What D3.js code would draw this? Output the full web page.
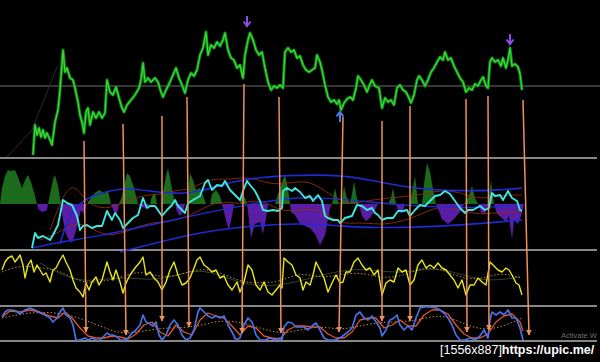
<html>
<head>
  <script src="https://d3js.org/d3.v7.min.js"></script>
  <style>
    body { margin: 0; background: #000; }
    svg { display: block; background: #000; }
  </style>
</head>
<body>
  <svg id="chart" width="600" height="362"></svg>
  <script>
    // bar index, value pairs
    const price = [[16.5,5],[17.5,35],[18.5,25],[19.5,32],[20.5,23],[21.5,30],[22.5,22],[23.5,27],[25,20],[26,15],[27.5,38],[29,50],[30,70],[31.5,110],[32.5,88],[33.5,92],[35,82],[36.5,80],[37.5,72],[39,58],[40,45],[41,38],[42,27],[43,48],[44,52],[45,35],[46.5,48],[48,42],[49.5,48],[51,42],[52.5,47],[53.5,80],[55,68],[56.5,65],[58,73],[59.5,62],[61,52],[62,48],[63.5,55],[65.5,60],[67.5,65],[69.5,72],[70.5,80],[71.5,97],[72.5,78],[74,82],[75.5,78],[77.5,82],[79,78],[80.5,68],[81.5,63],[83,70],[85,78],[86.5,85],[88,92],[89.5,82],[91,75],[92.5,67],[94,80],[95.5,87],[97,84],[98.5,90],[100,105],[101.5,112],[103,128],[104,105],[105.5,115],[107,112],[108.5,118],[110,114],[111.5,120],[112.5,127],[114,110],[115.5,102],[117,100],[118.5,92],[120,95],[121.5,82],[122.5,105],[124,120],[125,127],[126.5,120],[128,110],[129.5,105],[131,108],[132.5,92],[134,78],[135.5,70],[137,74],[138.5,72],[140,75],[141.5,72],[142.5,108],[144,112],[145.5,108],[147,110],[148.5,102],[150,104],[151.5,95],[153,90],[154.5,88],[156,90],[157.5,92],[158.5,105],[160,98],[161,90],[162.5,75],[164,63],[165.5,58],[167,60],[168.5,56],[169.5,60],[170.5,50],[172,57],[173.5,61],[175,63],[176.5,60],[178,72],[179,84],[180.5,80],[182,75],[183.5,68],[185,76],[186,80],[187.5,74],[189.5,72],[191,52],[192.5,62],[194,58],[195.5,60],[197,55],[198.5,72],[200,75],[201.5,70],[203,68],[204.5,62],[205.5,57],[207,65],[208.5,80],[209.5,84],[211,80],[212.5,74],[214,80],[215.5,88],[217,92],[218.5,98],[220,103],[221.5,100],[222.5,108],[224,100],[225.5,102],[227,94],[228.5,88],[230,82],[231.5,78],[233,68],[234.5,72],[236,70],[237.5,76],[239,74],[240.5,80],[241.5,83],[243,74],[244,72],[245,98],[246,102],[247.5,98],[249,100],[250.5,94],[251.5,102],[253,92],[254,100],[255,112],[256,94],[257.5,96],[259,93],[260,86],[261,70]];
    const priceMa = [[3.5,3],[16,30],[28.5,93]];
    const priceLevel = 74;
    const signalsDown = [[123.5,138],[255,120]];
    const signalsUp = [[170,44]];

    const hist = [[0,0],[1,16],[2.5,28],[4,34],[5.5,33],[7.5,34],[9,27],[11,16],[12.5,24],[14,29],[15.5,22],[17,12],[18.5,0],[19.5,-6],[21.5,-8],[23.5,-6],[24,0],[25,10],[26.5,24],[27.5,29],[29,18],[30.5,0],[31.5,-16],[33,-30],[34.5,-36],[36,-39],[37.5,-30],[39,-18],[40.5,-6],[42,-10],[43.5,0],[46,8],[48,12],[50,14],[52,10],[54,13],[55.5,0],[57,-8],[58.5,-10],[59.5,0],[61,8],[62.5,22],[63.5,31],[65,28],[67,16],[69,0],[70.5,-3],[73,-4],[75,0],[76,8],[77.5,11],[78.5,0],[80.5,0],[81.5,12],[83,28],[84,36],[85,26],[86.5,10],[87.5,0],[88.5,-8],[90,-12],[91.5,-8],[92.5,0],[93.5,0],[94.5,20],[95,31],[96.5,24],[98,14],[100,16],[102,6],[103,0],[105,0],[106,10],[108,14],[110,8],[111,0],[112,-8],[113.5,-20],[114.5,-26],[116,-12],[117,0],[120,0],[121,10],[122.5,6],[123.5,0],[124,-8],[125.5,-34],[127.5,-20],[130,-18],[131.5,-30],[133,-15],[134,0],[137.5,0],[139,10],[141,22],[142.5,29],[144,16],[145,0],[145.5,-8],[147.5,-11],[150,-20],[152.5,-22],[155,-24],[157.5,-30],[160,-41],[162.5,-31],[165,-4],[166,0],[167.5,16],[169,2],[170,0],[171,4],[172,18],[173.5,6],[175,0],[176,10],[177,23],[178.5,5],[179.5,0],[181,-12],[183,-17],[185,-14],[187,-8],[189,0],[194,0],[195.5,6],[196.5,16],[198,0],[199,-6],[201,-10],[202.5,0],[205,0],[206,12],[207.5,28],[209,0],[211,0],[212,20],[213.5,41],[215,32],[216.5,15],[218,0],[221,-15],[224,-20],[227,-15],[230,-8],[232,0],[234,6],[236,18],[237.5,6],[239,0],[240.5,-8],[242.5,-10],[244,0],[245.5,24],[247,0],[248.5,-10],[251,-14],[253,-18],[254.5,-12],[256,-36],[257,-16],[259,-20],[260.5,-12],[262,0]];
    const cyan = [[16,-44],[17.5,-29],[19,-34],[21.5,-32],[25,-36],[26.5,-31],[29,-21],[31.5,4],[33.5,1],[36,-1],[38.5,-12],[40,-26],[41.5,-22],[43.5,-21],[46,-24],[48.5,-22],[51,-22],[53.5,-7],[56,-16],[57.5,-9],[60,-16],[61.5,-24],[64,-19],[66.5,-14],[69,-11],[71.5,6],[73.5,-4],[75,-2],[77.5,-2],[81,-12],[83.5,-6],[86,-1],[87.5,4],[89,-2],[91,-6],[92.5,-9],[94,1],[96.5,4],[100,8],[102.5,21],[104,24],[106,14],[108.5,19],[111,18],[112.5,23],[115,14],[117.5,9],[120,4],[121.5,13],[123.5,23],[125,19],[127.5,13],[130,3],[131.5,-6],[134,-7],[136.5,-6],[139,-7],[141,-4],[141.5,13],[143.5,16],[146,13],[147.5,16],[150,12],[152.5,6],[155,8],[156.5,3],[159,9],[161,3],[162.5,-12],[164,-14],[166.5,-16],[169,-16],[170,-19],[172.5,-14],[176,-12],[178.5,-1],[181,-2],[183.5,-6],[186,-4],[187.5,-9],[189,-11],[191,-16],[193.5,-14],[196.5,-14],[199,-7],[201.5,-7],[203.5,-6],[205,-12],[207.5,-6],[210,-1],[212.5,-2],[215,3],[217.5,8],[220,9],[222.5,13],[225,10],[227.5,3],[230,-4],[232.5,-9],[234,-6],[236.5,-6],[240,-2],[242.5,-6],[244.5,-4],[246,11],[247.5,8],[250,9],[251.5,4],[254,13],[256,6],[258.5,3],[260,-6],[261,-7]];
    const bandUpper = [[30,-40],[33,-20],[37.5,-3],[45,8],[55,13],[62.5,16],[75,13],[87.5,10],[100,12],[115,22],[130,27],[150,29],[170,29],[185,24],[200,18],[215,14],[235,13],[250,14],[261,16]];
    const bandMiddle = [[16,-44],[30,-38],[50,-32],[75,-21],[100,-10],[125,0],[150,8],[175,4],[200,-1],[225,-4],[250,-3],[261,-1]];
    const bandLower = [[60,-48],[80,-38],[100,-28],[125,-22],[150,-19],[170,-22],[190,-24],[210,-23],[230,-21],[250,-18],[261,-16]];
    const envUpper = [[25,-26],[32.5,14],[37.5,19],[42.5,4],[50,-6],[60,-1],[70,9],[80,9],[87.5,14],[95,14],[105,26],[115,24],[125,28],[135,19],[145,21],[155,24],[165,9],[175,-1],[185,4],[195,6],[210,9],[220,14],[230,12],[240,4],[250,9],[261,9]];
    const envLower = [[20,-36],[30,-28],[40,-16],[50,-31],[60,-31],[70,-21],[80,-18],[90,-16],[100,-6],[110,4],[120,-1],[130,6],[140,-8],[150,-6],[160,-4],[170,-21],[180,-18],[190,-21],[200,-18],[210,-11],[220,-1],[230,-6],[240,-11],[250,-8],[261,-8]];

    const yellow = [[1,35],[2.5,43],[4,47],[6,49],[7.5,43],[9,47],[10,50],[11.5,40],[12.5,27],[14,40],[15.5,45],[17,33],[18.5,40],[20,35],[21.5,30],[23,32],[25,23],[26.5,35],[28,37],[30,45],[31.5,50],[33,43],[35,35],[36.5,25],[38,17],[40,13],[41.5,8],[43,22],[44.5,15],[46,23],[48,28],[49.5,20],[51,25],[53.5,43],[55,33],[56.5,25],[58,35],[60,23],[61.5,12],[63,22],[65,30],[67.5,37],[70,43],[71.5,48],[73,30],[75,33],[77,27],[79,23],[81,15],[83,23],[85,35],[87,43],[89,30],[91,20],[93,22],[95,27],[97,37],[98.5,45],[100,48],[102,40],[104,37],[106,33],[108,35],[110,27],[112,29],[114,20],[116,15],[118.5,23],[120,13],[122,23],[124,40],[126,35],[128,20],[130,15],[132,23],[134,13],[136,10],[138,15],[140,20],[141,17],[142,47],[144,43],[146,40],[148,30],[150,27],[151.5,15],[153,23],[155,20],[156.5,30],[158,43],[160,35],[162,27],[164,13],[166,22],[168,30],[170,22],[171.5,23],[173,33],[175,33],[177,43],[179,47],[181,40],[183,35],[185,37],[187,30],[189,35],[191,10],[193,22],[195,25],[197,23],[199,37],[201,33],[203,35],[205,20],[207,25],[209,40],[211,45],[213,37],[215,40],[217,37],[219,42],[221,37],[223,35],[225,30],[227,25],[229,17],[231,25],[233,10],[235,20],[237,20],[239,27],[241,23],[243,20],[245,43],[247,39],[249,35],[251,33],[253,37],[254.5,35],[256,30],[258,22],[259.5,20],[261,10]];
    const yellowSignal = [[1,33],[10,40],[20,37],[30,35],[40,22],[50,23],[60,27],[70,35],[80,27],[90,30],[100,37],[110,33],[120,23],[130,22],[140,23],[150,33],[160,27],[170,30],[180,33],[190,27],[200,28],[210,37],[220,37],[230,27],[240,25],[250,33],[261,27]];
    const yellowBand = [[20,42],[40,20],[60,30],[80,22],[100,40],[120,20],[140,18],[160,30],[180,38],[200,30],[220,40],[240,22],[260,28]];

    const stochMain = [[1,24],[2.5,29],[4,31],[6,31],[8,30],[10,27],[12.5,31],[15,33],[17.5,31],[20,28],[22.5,26],[25,23],[26.5,19],[28.5,23],[30,29],[31.5,33],[33,26],[35,23],[36.5,16],[38,1],[40,1],[42.5,3],[44,1],[46,3],[48,1],[50,1],[52,5],[53.5,8],[55,6],[56.5,6],[58.5,4],[60,1],[62.5,1],[64,3],[66,8],[68,11],[70,16],[71.5,26],[73,19],[75,17],[76.5,15],[78,19],[79.5,6],[81,1],[83,6],[85,16],[87,21],[89,16],[91,6],[93,1],[95,3],[97,11],[99,29],[100,33],[102,29],[104,25],[106,23],[108,25],[110,23],[112,25],[114,16],[116,9],[118,1],[120,3],[122,16],[124,23],[126,19],[128,6],[130,1],[132.5,1],[135,3],[137.5,1],[140,3],[141,1],[142,14],[144,19],[146,18],[148,14],[150,14],[152,14],[154,11],[156,15],[158,18],[160,11],[162,3],[164,1],[167.5,1],[170,3],[172,6],[174,9],[176,13],[178,26],[180,29],[182,23],[184,21],[186,25],[188,19],[190,13],[191,5],[193,11],[195,21],[197,23],[198.5,26],[200,16],[202,11],[204,15],[206,11],[208,23],[210,33],[212,34],[215,34],[218,33],[220,31],[222,28],[224,23],[226,16],[228,6],[230,1],[232.5,1],[235,3],[237.5,1],[240,5],[242,11],[244,3],[245,21],[246,29],[248,26],[250,29],[252,26],[254,31],[256,23],[258,23],[260,13],[261.5,1]];
    const stochSignal = [[1,24],[5,30],[10,29],[15,31],[20,29],[25,25],[29,23],[32.5,29],[36,23],[40,13],[44,5],[48,3],[52,3],[56,5],[60,4],[64,2],[68,7],[72,16],[76,19],[80,9],[84,5],[88,16],[92,9],[96,6],[100,21],[104,28],[108,25],[112,23],[116,15],[120,6],[124,15],[128,13],[132,5],[136,3],[140,2],[144,11],[148,15],[152,15],[156,14],[160,14],[164,7],[168,3],[172,3],[176,9],[180,21],[184,23],[188,23],[192,13],[196,16],[200,21],[204,15],[208,15],[212,26],[216,31],[220,31],[224,27],[228,16],[232,7],[236,3],[240,3],[244,7],[248,19],[252,25],[256,27],[260,19],[261.5,10]];
    const stochSlow = [[1,23],[10,27],[20,29],[30,28],[40,23],[50,15],[60,7],[70,9],[80,13],[90,13],[100,15],[110,21],[120,19],[130,13],[140,7],[150,11],[160,15],[170,11],[180,15],[190,19],[200,19],[210,21],[220,27],[230,19],[240,11],[250,13],[261,23]];

    // divergence arrows: [bar, price] -> [bar, stoch]
    const arrowFrom = [[42,19],[61.5,36],[81,44],[93.5,63],[122,76],[139.5,63],[171.5,43],[191,39],[205,54],[233,61],[244,64],[261.5,60]];
    const arrowTo = [[43,9],[63,6],[81,20],[94.5,14],[121,8],[140.5,8],[169.5,9],[191,20],[205,20],[233.5,9],[244.5,11],[264.5,6]];

    const svg = d3.select('svg#chart');
    const width = +svg.attr('width');

    const x = d3.scaleLinear().domain([0, 300]).range([0, 600]);
    const yPrice = d3.scaleLinear().domain([0, 160]).range([160, 0]);
    const yOsc = d3.scaleLinear().domain([-46, 46]).range([250, 158]);
    const yRsi = d3.scaleLinear().domain([0, 55]).range([305, 250]);
    const yStoch = d3.scaleLinear().domain([0, 35]).range([341, 306]);

    const line = (ys) => d3.line().x(d => x(d[0])).y(d => ys(d[1]));
    const smooth = (ys) => d3.line().x(d => x(d[0])).y(d => ys(d[1])).curve(d3.curveBasis);

    function drawLine(data, gen, color, w, dash) {
      svg.append('path').datum(data)
        .attr('d', gen)
        .attr('fill', 'none')
        .attr('stroke', color)
        .attr('stroke-width', w)
        .attr('stroke-linejoin', 'round')
        .attr('stroke-dasharray', dash || null);
    }

    // panel separators
    svg.append('line')
      .attr('x1', 0).attr('x2', width)
      .attr('y1', yPrice(priceLevel)).attr('y2', yPrice(priceLevel))
      .attr('stroke', '#6e6e6e').attr('stroke-width', 1);
    [yPrice(0) - 2, yOsc(-46), yRsi(0) + 1, yStoch(0)].forEach(yy => {
      svg.append('line')
        .attr('x1', 0).attr('x2', width - 3)
        .attr('y1', yy).attr('y2', yy)
        .attr('stroke', '#b4b4b4').attr('stroke-width', 1.6);
    });

    // price panel
    drawLine(priceMa, line(yPrice), '#2a2a2a', 1);
    drawLine(price, line(yPrice), '#128c12', 3);
    drawLine(price, line(yPrice), '#3ad83a', 1.2);

    const arrowPath = (px, py, dir) => {
      const p = d3.path();
      p.moveTo(px, py - 6 * dir); p.lineTo(px, py + 3 * dir);
      p.moveTo(px - 3.5, py - 0.5 * dir); p.lineTo(px, py + 4 * dir); p.lineTo(px + 3.5, py - 0.5 * dir);
      return p.toString();
    };
    svg.selectAll('path.sigdown').data(signalsDown).join('path')
      .attr('class', 'sigdown')
      .attr('d', d => arrowPath(x(d[0]), yPrice(d[1]), 1))
      .attr('fill', 'none').attr('stroke', '#8b4fe6').attr('stroke-width', 2);
    svg.selectAll('path.sigup').data(signalsUp).join('path')
      .attr('class', 'sigup')
      .attr('d', d => arrowPath(x(d[0]), yPrice(d[1]), -1))
      .attr('fill', 'none').attr('stroke', '#4f7be6').attr('stroke-width', 2);

    // oscillator panel
    const histPos = d3.area().x(d => x(d[0])).y0(yOsc(0)).y1(d => yOsc(Math.max(0, d[1])));
    const histNeg = d3.area().x(d => x(d[0])).y0(yOsc(0)).y1(d => yOsc(Math.min(0, d[1])));
    svg.append('path').datum(hist).attr('d', histPos).attr('fill', '#1c6b1c');
    svg.append('path').datum(hist).attr('d', histNeg).attr('fill', '#5a1ea6');

    drawLine(envUpper, smooth(yOsc), '#8e2a12', 0.9);
    drawLine(envLower, smooth(yOsc), '#8e2a12', 0.9);
    drawLine(bandUpper, smooth(yOsc), '#1e2bd2', 1.6);
    drawLine(bandMiddle, smooth(yOsc), '#1e2bd2', 1.4);
    drawLine(bandLower, smooth(yOsc), '#1e2bd2', 1.6);
    drawLine(cyan, line(yOsc), '#3fe6df', 1.9);

    // yellow panel
    drawLine(yellowBand, smooth(yRsi), '#34432a', 1);
    drawLine(yellowSignal, smooth(yRsi), '#b68a4a', 1, '1.5,2');
    drawLine(yellow, line(yRsi), '#e8e61e', 1.4);

    // stochastic panel
    drawLine(stochSlow, smooth(yStoch), '#c88a4a', 1, '1.5,2');
    drawLine(stochSignal, line(yStoch), '#e0562a', 1.3);
    drawLine(stochMain, line(yStoch), '#4a70e6', 1.7);

    // divergence arrows
    svg.append('defs').append('marker')
      .attr('id', 'head')
      .attr('viewBox', '0 0 10 10')
      .attr('refX', 9).attr('refY', 5)
      .attr('markerWidth', 4).attr('markerHeight', 4)
      .attr('orient', 'auto')
      .append('path').attr('d', 'M0,0L10,5L0,10z').attr('fill', '#f0905a');

    svg.selectAll('line.div').data(d3.zip(arrowFrom, arrowTo)).join('line')
      .attr('class', 'div')
      .attr('x1', d => x(d[0][0])).attr('y1', d => yPrice(d[0][1]))
      .attr('x2', d => x(d[1][0])).attr('y2', d => yStoch(d[1][1]))
      .attr('stroke', '#f0905a').attr('stroke-width', 1.5)
      .attr('marker-end', 'url(#head)');

    // overlay texts
    svg.append('text')
      .attr('x', 561).attr('y', 338)
      .attr('fill', '#6f6f6f')
      .attr('font-family', 'Liberation Sans, Arial, sans-serif')
      .attr('font-size', 7.5)
      .text('Activate W');

    const stamp = svg.append('text')
      .attr('x', 440).attr('y', 354)
      .attr('fill', '#ffffff')
      .attr('font-family', 'Liberation Sans, Arial, sans-serif')
      .attr('font-size', 12.5);
    stamp.append('tspan').text('[1556x887]');
    stamp.append('tspan').attr('font-weight', 'bold').text('https://upic.me/');
  </script>
</body>
</html>
